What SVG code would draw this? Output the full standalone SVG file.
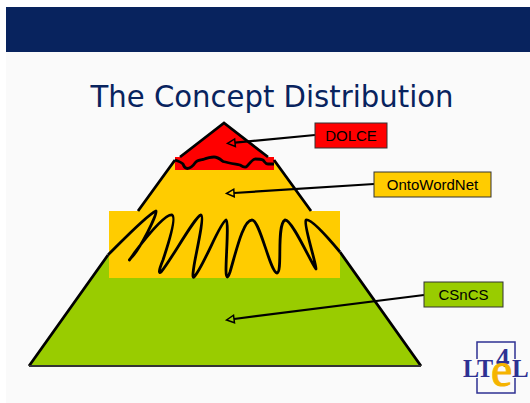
<svg xmlns="http://www.w3.org/2000/svg" width="530" height="403" viewBox="0 0 530 403">
<style>
.box{stroke:#333;stroke-width:1}
.lbl{font-family:"Liberation Sans",Arial,sans-serif;font-size:15px;fill:#000;text-anchor:middle}
.conn{stroke:#000;stroke-width:2.200;fill:none;marker-end:url(#open)}
.wave{fill:none;stroke:#000;stroke-width:2.800;stroke-linejoin:round}
.edge{fill:none;stroke:#000;stroke-width:2.800}
.logo{font-family:"Liberation Serif",serif;font-weight:bold;fill:#2e3192}
</style>
<defs>
<marker id="open" markerUnits="userSpaceOnUse" markerWidth="12" markerHeight="12" viewBox="0 -6 10 12" refX="0" refY="0" orient="auto" overflow="visible">
<path d="M0,-3.800 L7.500,0 L0,3.800 Z" fill="none" stroke="#000" stroke-width="1.500"/>
</marker>
</defs>
<rect width="530" height="403" fill="#ffffff"/>
<rect x="6" y="52" width="524" height="351" fill="#fafafa"/>
<rect x="6" y="7" width="524" height="45" fill="#08235e"/>
<text x="272" y="107" font-family="'DejaVu Sans',sans-serif" font-size="31" fill="#08235e" text-anchor="middle" textLength="363" lengthAdjust="spacingAndGlyphs">The Concept Distribution</text>
<g id="pyramid">
<polygon points="108,255 340,252 421,366 29,366" fill="#99cc00"/>
<polygon points="175,160 274,160 311,211 138,211" fill="#ffcc00"/>
<polygon points="224,123 268,157 274,165 175,165 180,157" fill="#ff0000"/>
<rect x="175" y="157" width="99" height="13" fill="#ff0000"/>
<rect x="109" y="211" width="231" height="67" fill="#ffcc00"/>
<path class="edge" d="M29,366 L108,255 M340,252 L421,366"/>
<path d="M29,366 H421" fill="none" stroke="#333" stroke-width="2.200"/>
<path class="edge" d="M180,157 L224,123 L268,157 M175,160 L138,211 M274,160 L311,211"/>
<path class="wave" d="M175,160 C178,161 181,162 183,164 C184,167 185,168 187,168.500 C191,168 193,166 195,163 C197,160 199,160 203,159.500 C207,158 210,157 214,157 C218,157 220,159 223,161.500 C229,163 235,164 240,165 C243,167 244,167.500 246,167 C249,165 251,160 255,159 C258,159 261,159 263,160 C265,162 265,164 268,164 L274,164"/>
<path class="wave" d="M108,255 C125,238 147,215 156,211 C158,213 140,250 130,259 C128,262 131,258 135,252 C148,235 165,214 172,215 C177,217 168,245 163,260 C158,272 159,274 161,272 C170,262 195,216 201,215 C204,216 199,240 196,255 C193,270 192,279 194,277 C203,268 220,222 226,220 C229,222 226,255 226,270 C226,280 228,278 230,272 C236,252 243,220 252,220 C260,220 270,272 277,273 C283,272 276,225 285,220 C292,219 312,265 316,269 C316,262 303,224 306,220 C311,218 330,240 340,252"/>
</g>
<g id="connectors">
<line class="conn" x1="315" y1="135" x2="235" y2="142.700"/>
<line class="conn" x1="374" y1="184" x2="234" y2="193"/>
<line class="conn" x1="424" y1="295" x2="234" y2="319"/>
</g>
<g id="dolce">
<rect class="box" x="315" y="123" width="72" height="25" fill="#ff0000"/>
<text class="lbl" x="351" y="141">DOLCE</text>
</g>
<g id="ontowordnet">
<rect class="box" x="374" y="172" width="117" height="25" fill="#ffcc00"/>
<text class="lbl" x="432.500" y="190">OntoWordNet</text>
</g>
<g id="csncs">
<rect class="box" x="424" y="282" width="79" height="25" fill="#99cc00"/>
<text class="lbl" x="463.500" y="300">CSnCS</text>
</g>
<g id="logo">
<rect x="477" y="342" width="38" height="51" fill="none" stroke="#2e3192" stroke-width="1.500"/>
<rect x="460" y="359" width="70" height="19" fill="#fafafa"/>
<text class="logo" x="463" y="377" font-size="25" textLength="30" lengthAdjust="spacingAndGlyphs">LT</text>
<text class="logo" x="496" y="367" font-size="27">4</text>
<text x="491" y="386" font-family="'Liberation Serif',serif" font-size="48" fill="#f5b400" stroke="#f5b400" stroke-width="1">e</text>
<text class="logo" x="512" y="377" font-size="25">L</text>
</g>
</svg>
